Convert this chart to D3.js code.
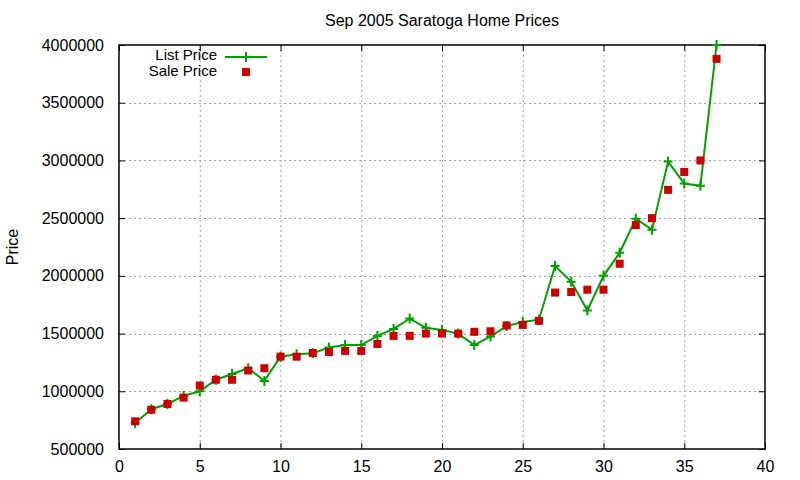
<!DOCTYPE html>
<html><head><meta charset="utf-8">
<script src="https://cdn.jsdelivr.net/npm/d3@7"></script>
<style>body{margin:0;background:#fff}svg{display:block;font-family:"Liberation Sans",Arial,sans-serif}</style>
</head><body><svg id="c" width="800" height="480"></svg>
<script>
const houseIndex = d3.range(1, 38);
const listPrice = [725000,845000,890000,960000,1000000,1100000,1150000,1200000,1090000,1300000,
  1320000,1330000,1380000,1400000,1400000,1480000,1540000,1630000,1550000,1530000,
  1500000,1400000,1475000,1565000,1600000,1620000,2085000,1950000,1700000,2000000,
  2200000,2495000,2400000,2990000,2800000,2780000,4000000];
const salePrice = [740000,840000,890000,945000,1050000,1100000,1100000,1180000,1200000,1300000,
  1300000,1332000,1340000,1350000,1350000,1410000,1480000,1480000,1500000,1500000,
  1500000,1515000,1520000,1570000,1575000,1610000,1855000,1860000,1880000,1880000,
  2105000,2440000,2500000,2745000,2900000,3000000,3880000];
const xTicks = [0,5,10,15,20,25,30,35,40];
const yTicks = [500000,1000000,1500000,2000000,2500000,3000000,3500000,4000000];
const titleText = "Sep 2005 Saratoga Home Prices";
const yLabel = "Price";
const seriesNames = ["List Price","Sale Price"];

const svg = d3.select("#c");
const L=119, R=765, T=45, B=449;
const x = d3.scaleLinear().domain([0,40]).range([L,R]);
const y = d3.scaleLinear().domain([500000,4000000]).range([B,T]);
const green="#00a000", red="#cc0000";

// grid
const g = svg.append("g");
g.selectAll(".gx").data(xTicks.filter(d=>d>0&&d<40)).join("line")
  .attr("x1",d=>x(d)+.5).attr("x2",d=>x(d)+.5).attr("y1",T).attr("y2",B)
  .attr("stroke","#a0a0a0").attr("stroke-dasharray","2,3");
g.selectAll(".gy").data(yTicks.filter(d=>d>500000&&d<4000000)).join("line")
  .attr("y1",d=>Math.round(y(d))+.5).attr("y2",d=>Math.round(y(d))+.5).attr("x1",L).attr("x2",R)
  .attr("stroke","#a0a0a0").attr("stroke-dasharray","2,3");

// axes with inward ticks (mirrored)
const fmt = d=>String(d);
svg.append("g").attr("transform",`translate(0,${B})`)
  .call(d3.axisBottom(x).tickValues(xTicks).tickSize(-6).tickPadding(12).tickFormat(fmt))
  .call(a=>a.select(".domain").remove());
svg.append("g").attr("transform",`translate(0,${T})`)
  .call(d3.axisTop(x).tickValues(xTicks).tickSize(-6).tickFormat(""))
  .call(a=>a.select(".domain").remove());
svg.append("g").attr("transform",`translate(${L},0)`)
  .call(d3.axisLeft(y).tickValues(yTicks).tickSize(-6).tickPadding(15).tickFormat(fmt))
  .call(a=>a.select(".domain").remove());
svg.append("g").attr("transform",`translate(${R},0)`)
  .call(d3.axisRight(y).tickValues(yTicks).tickSize(-6).tickFormat(""))
  .call(a=>a.select(".domain").remove());
svg.selectAll(".tick line").attr("stroke","#000");
svg.selectAll(".tick text").attr("font-size",16).attr("fill","#000")
  .attr("font-family","'Liberation Sans',Arial,sans-serif");
svg.append("rect").attr("x",L).attr("y",T).attr("width",R-L).attr("height",B-T)
  .attr("fill","none").attr("stroke","#000").attr("stroke-width",1.5);

// title and label
svg.append("text").attr("x",(L+R)/2).attr("y",26).attr("text-anchor","middle")
  .attr("font-size",16).text(titleText);
svg.append("text").attr("transform",`translate(18,247) rotate(-90)`).attr("text-anchor","middle")
  .attr("font-size",16).text(yLabel);

// list line
const data = houseIndex.map((d,i)=>({i:d,l:listPrice[i],s:salePrice[i]}));
svg.append("path").datum(data).attr("fill","none").attr("stroke",green).attr("stroke-width",2)
  .attr("d",d3.line().x(d=>x(d.i)).y(d=>y(d.l)));
const plus = (sel,cx,cy)=>{
  sel.append("path").attr("d",`M${cx-4.5},${cy}H${cx+4.5}M${cx},${cy-5}V${cy+5}`)
    .attr("stroke",green).attr("stroke-width",2);
};
const pg = svg.append("g");
data.forEach(d=>plus(pg,x(d.i),y(d.l)));
svg.append("g").selectAll("rect").data(data).join("rect")
  .attr("x",d=>x(d.i)-4).attr("y",d=>y(d.s)-4).attr("width",8).attr("height",8).attr("fill",red);

// legend
svg.append("text").attr("x",217).attr("y",60).attr("text-anchor","end").attr("font-size",15).text(seriesNames[0]);
svg.append("text").attr("x",217).attr("y",76).attr("text-anchor","end").attr("font-size",15).text(seriesNames[1]);
svg.append("line").attr("x1",225).attr("x2",267).attr("y1",57).attr("y2",57).attr("stroke",green).attr("stroke-width",2);
plus(svg,246,57);
svg.append("rect").attr("x",242).attr("y",68).attr("width",8).attr("height",8).attr("fill",red);
</script></body></html>
